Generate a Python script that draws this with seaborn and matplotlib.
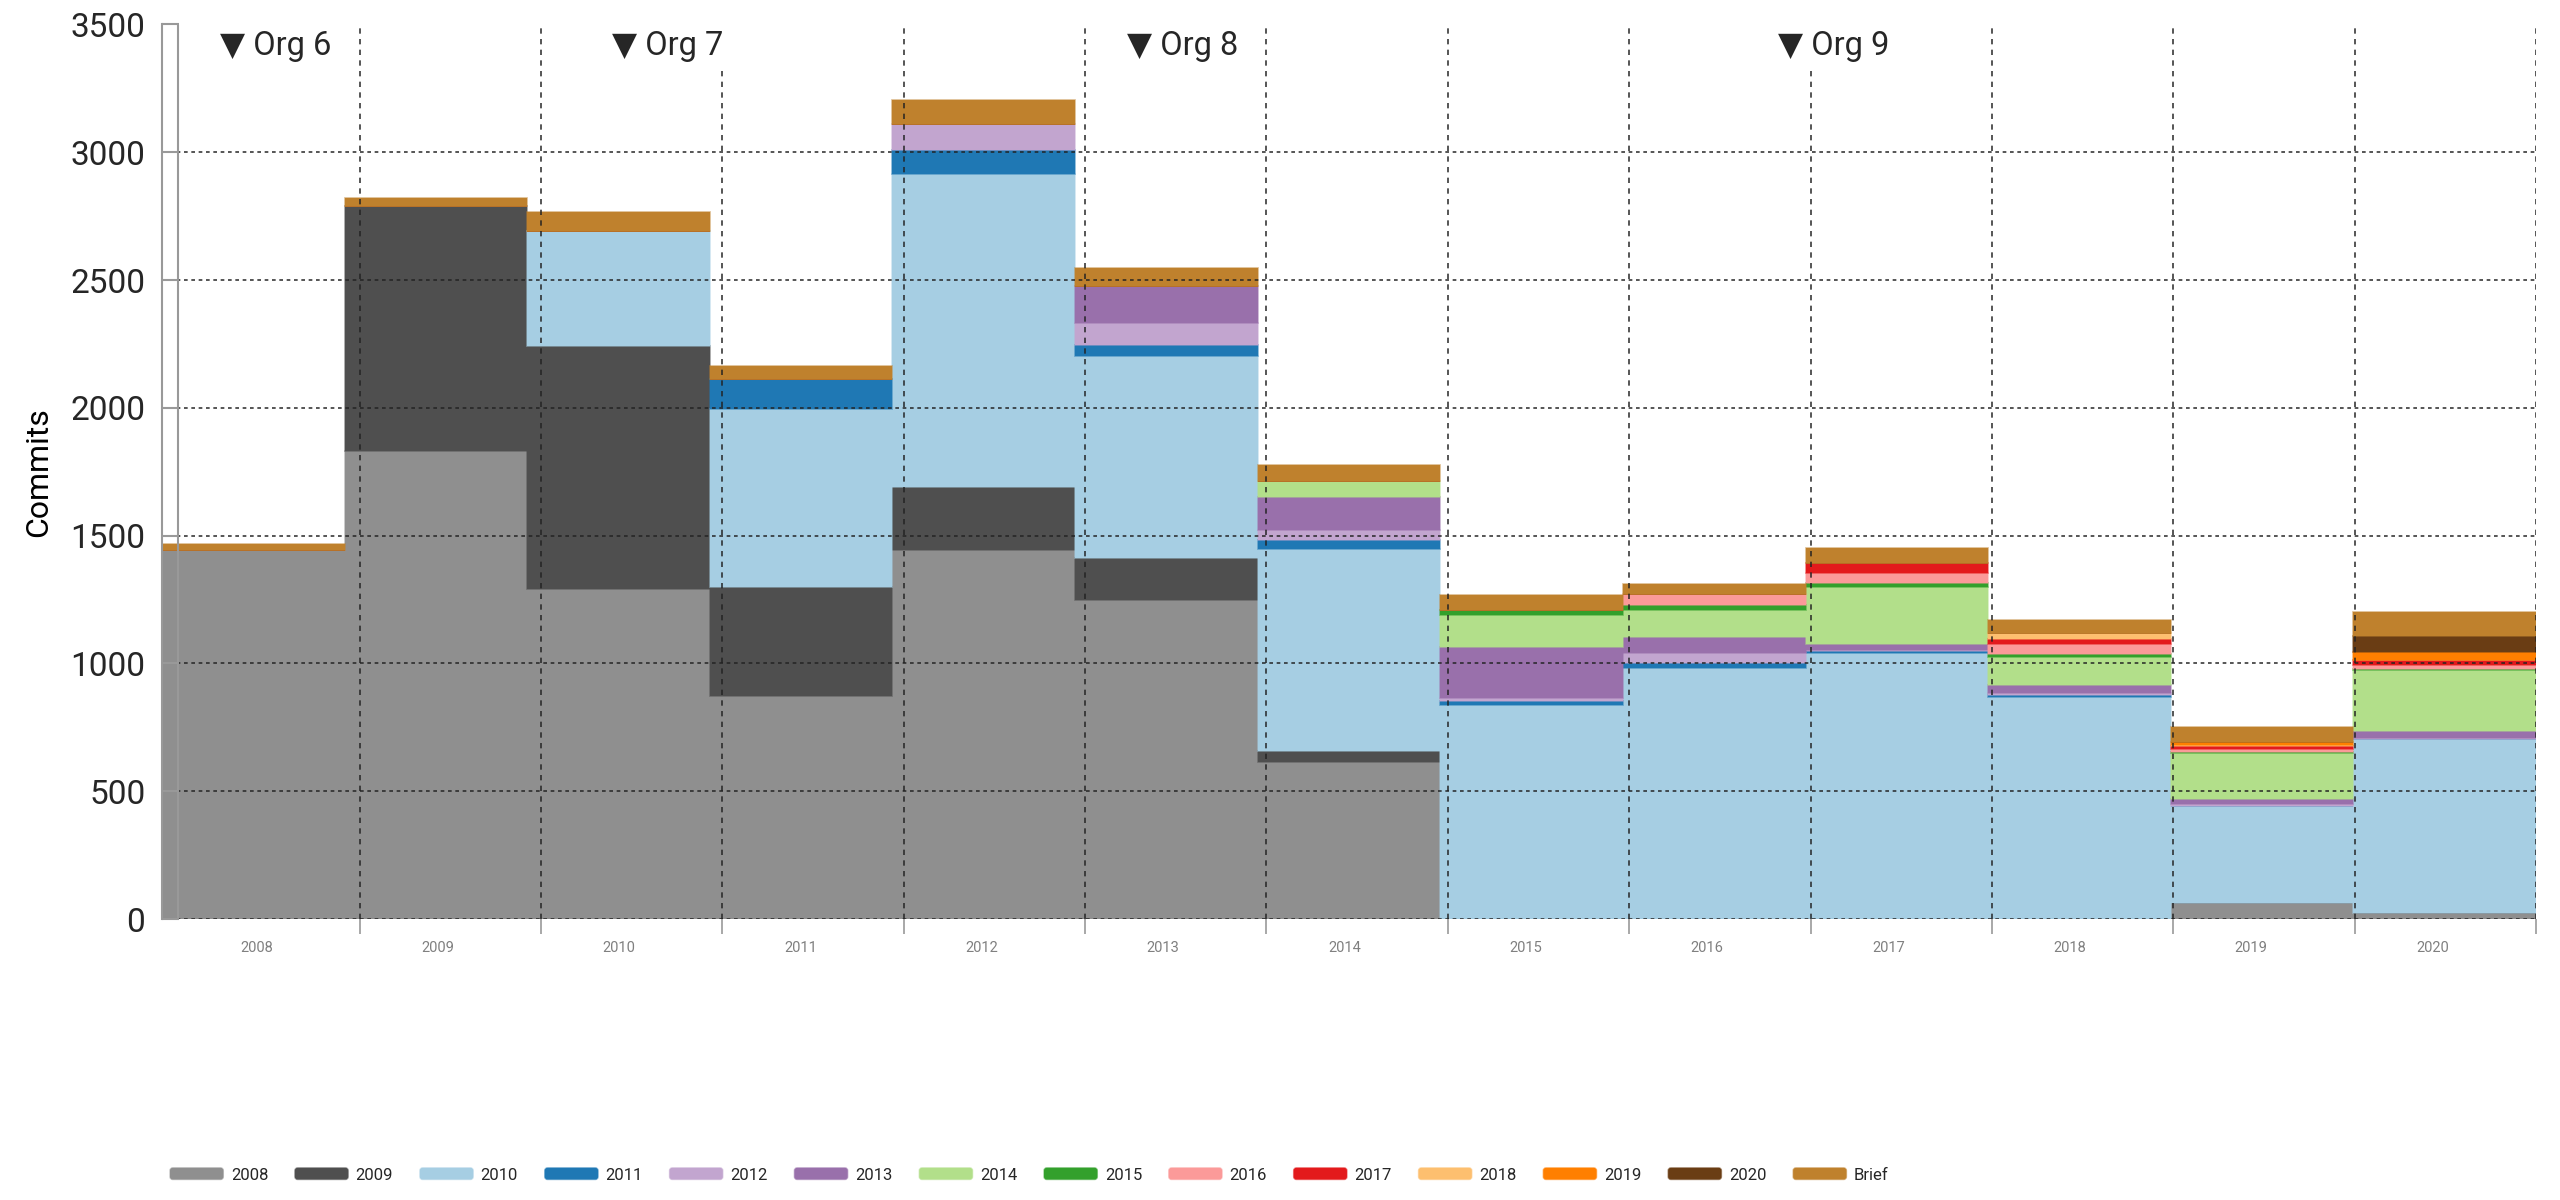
import numpy as np
import pandas as pd
import matplotlib
matplotlib.use('Agg')
import matplotlib.pyplot as plt
import seaborn as sns
from matplotlib.patches import Patch, FancyBboxPatch
from matplotlib.legend_handler import HandlerPatch
from matplotlib.colors import to_rgba

# --- data: commits per year, split by contributor cohort (year of first commit)
years = [2008, 2009, 2010, 2011, 2012, 2013, 2014, 2015, 2016, 2017, 2018, 2019, 2020]
c2008 = [1442, 1830, 1290, 872, 1444, 1249, 616, 0, 0, 0, 0, 63, 24]
c2009 = [0, 961, 951, 427, 247, 164, 42, 0, 0, 0, 0, 0, 0]
c2010 = [0, 0, 452, 696, 1225, 789, 791, 839, 983, 1040, 868, 378, 680]
c2011 = [0, 0, 0, 116, 93, 44, 33, 15, 20, 7, 8, 2, 0]
c2012 = [0, 0, 0, 0, 103, 85, 39, 9, 36, 5, 9, 8, 3]
c2013 = [0, 0, 0, 0, 0, 147, 131, 203, 66, 23, 32, 17, 27]
c2014 = [0, 0, 0, 0, 0, 0, 62, 122, 106, 225, 110, 183, 240]
c2015 = [0, 0, 0, 0, 0, 0, 0, 20, 17, 16, 9, 4, 3]
c2016 = [0, 0, 0, 0, 0, 0, 0, 0, 44, 39, 41, 10, 17]
c2017 = [0, 0, 0, 0, 0, 0, 0, 0, 0, 38, 20, 10, 19]
c2018 = [0, 0, 0, 0, 0, 0, 0, 0, 0, 0, 22, 6, 2]
c2019 = [0, 0, 0, 0, 0, 0, 0, 0, 0, 0, 0, 13, 28]
c2020 = [0, 0, 0, 0, 0, 0, 0, 0, 0, 0, 0, 0, 65]
brief = [24, 29, 72, 51, 91, 71, 61, 59, 40, 60, 49, 56, 94]

cohorts = ['2008', '2009', '2010', '2011', '2012', '2013', '2014',
           '2015', '2016', '2017', '2018', '2019', '2020', 'Brief']
series = [c2008, c2009, c2010, c2011, c2012, c2013, c2014,
          c2015, c2016, c2017, c2018, c2019, c2020, brief]
colors = ['#8f8f8f', '#4f4f4f', '#a6cee3', '#1f78b4', '#c2a5cf', '#9970ab', '#b2df8a',
          '#33a02c', '#fb9a99', '#e31a1c', '#fdbf6f', '#ff7f00', '#6a3d14', '#bf812d']

orgs = ['Org 6', 'Org 7', 'Org 8', 'Org 9']
org_x = [2007.73, 2009.89, 2012.73, 2016.32]

df = pd.DataFrame([
    {'year': y, 'cohort': c, 'commits': v}
    for c, vals in zip(cohorts, series)
    for y, v in zip(years, vals)
])
palette = dict(zip(cohorts, colors))

sns.set_theme(style='white')
plt.rcParams['font.family'] = ['Roboto', 'DejaVu Sans']

fig = plt.figure(figsize=(25.6, 12), dpi=100)
ax = fig.add_axes([162 / 2560, 281 / 1200, (2536 - 162) / 2560, (919 - 24.5) / 1200])

x0, x1 = 2007.41, 2020.5
edges = list(np.linspace(x0, x1, len(years) + 1))

# seaborn stacks first hue level on top -> reverse so 2008 sits at the bottom
sns.histplot(data=df, x='year', weights='commits', hue='cohort',
             hue_order=cohorts[::-1], palette=palette, multiple='stack',
             bins=edges, alpha=1, linewidth=0, legend=False, ax=ax)
for p in ax.patches:
    fc = p.get_facecolor()
    p.set_edgecolor(to_rgba(fc, 0.55))
    p.set_linewidth(1.2)

ax.set_xlim(x0, x1)
ax.set_ylim(0, 3500)
ax.set_yticks(np.arange(0, 3501, 500))
ax.set_xticks(np.array(years) + 0.5)
ax.set_xticklabels([])
ax.set_xticks(np.array(years) - 0.07, minor=True)
ax.set_xticklabels([str(y) for y in years], minor=True)

ax.tick_params(axis='y', direction='in', length=12, width=1.5, color='#999999',
               labelsize=24, pad=12, left=True)
ax.tick_params(axis='x', which='major', direction='out', length=11, width=1.2,
               color='#999999', bottom=True)
ax.tick_params(axis='x', which='minor', length=0, labelsize=10.5,
               labelcolor='#808080', pad=16)

ax.set_axisbelow(False)
ax.yaxis.grid(True, color='#222222', linestyle=(0, (2.2, 2.2)), linewidth=1.2, alpha=0.9)
ax.xaxis.grid(True, which='major', color='#222222', linestyle=(0, (3.2, 3.2)),
              linewidth=1.2, alpha=0.9)

for s in ['top', 'right', 'bottom']:
    ax.spines[s].set_visible(False)
ax.spines['left'].set_color('#999999')
ax.spines['left'].set_linewidth(1.5)
ax.axvline(2007.5, color='#999999', linewidth=1.5, zorder=2.6)

ax.set_xlabel('')
ax.set_ylabel('Commits', fontsize=23, color='black')
ax.yaxis.set_label_coords(-0.046, 0.5)

for name, xo in zip(orgs, org_x):
    ax.text(xo, 3415, '\u25bc ' + name, fontsize=23.5, ha='left', va='center',
            family=['Roboto', 'DejaVu Sans'], zorder=4,
            bbox=dict(facecolor='white', edgecolor='none', pad=3))


def rounded_patch(legend, orig_handle, xdescent, ydescent, width, height, fontsize):
    return FancyBboxPatch((-xdescent, -ydescent), width, height,
                          boxstyle='round,pad=0,rounding_size=2')


handles = [Patch(facecolor=c, edgecolor=to_rgba(c, 0.5), linewidth=1) for c in colors]
fig.legend(handles, cohorts, loc='center left', bbox_to_anchor=(170 / 2560, 1 - 1175 / 1200),
           ncol=len(cohorts), frameon=False, fontsize=12, handlelength=3.2,
           handleheight=0.7, handletextpad=0.45, columnspacing=1.6,
           borderpad=0, borderaxespad=0,
           handler_map={Patch: HandlerPatch(patch_func=rounded_patch)})

fig.savefig('out.png', dpi=100)
